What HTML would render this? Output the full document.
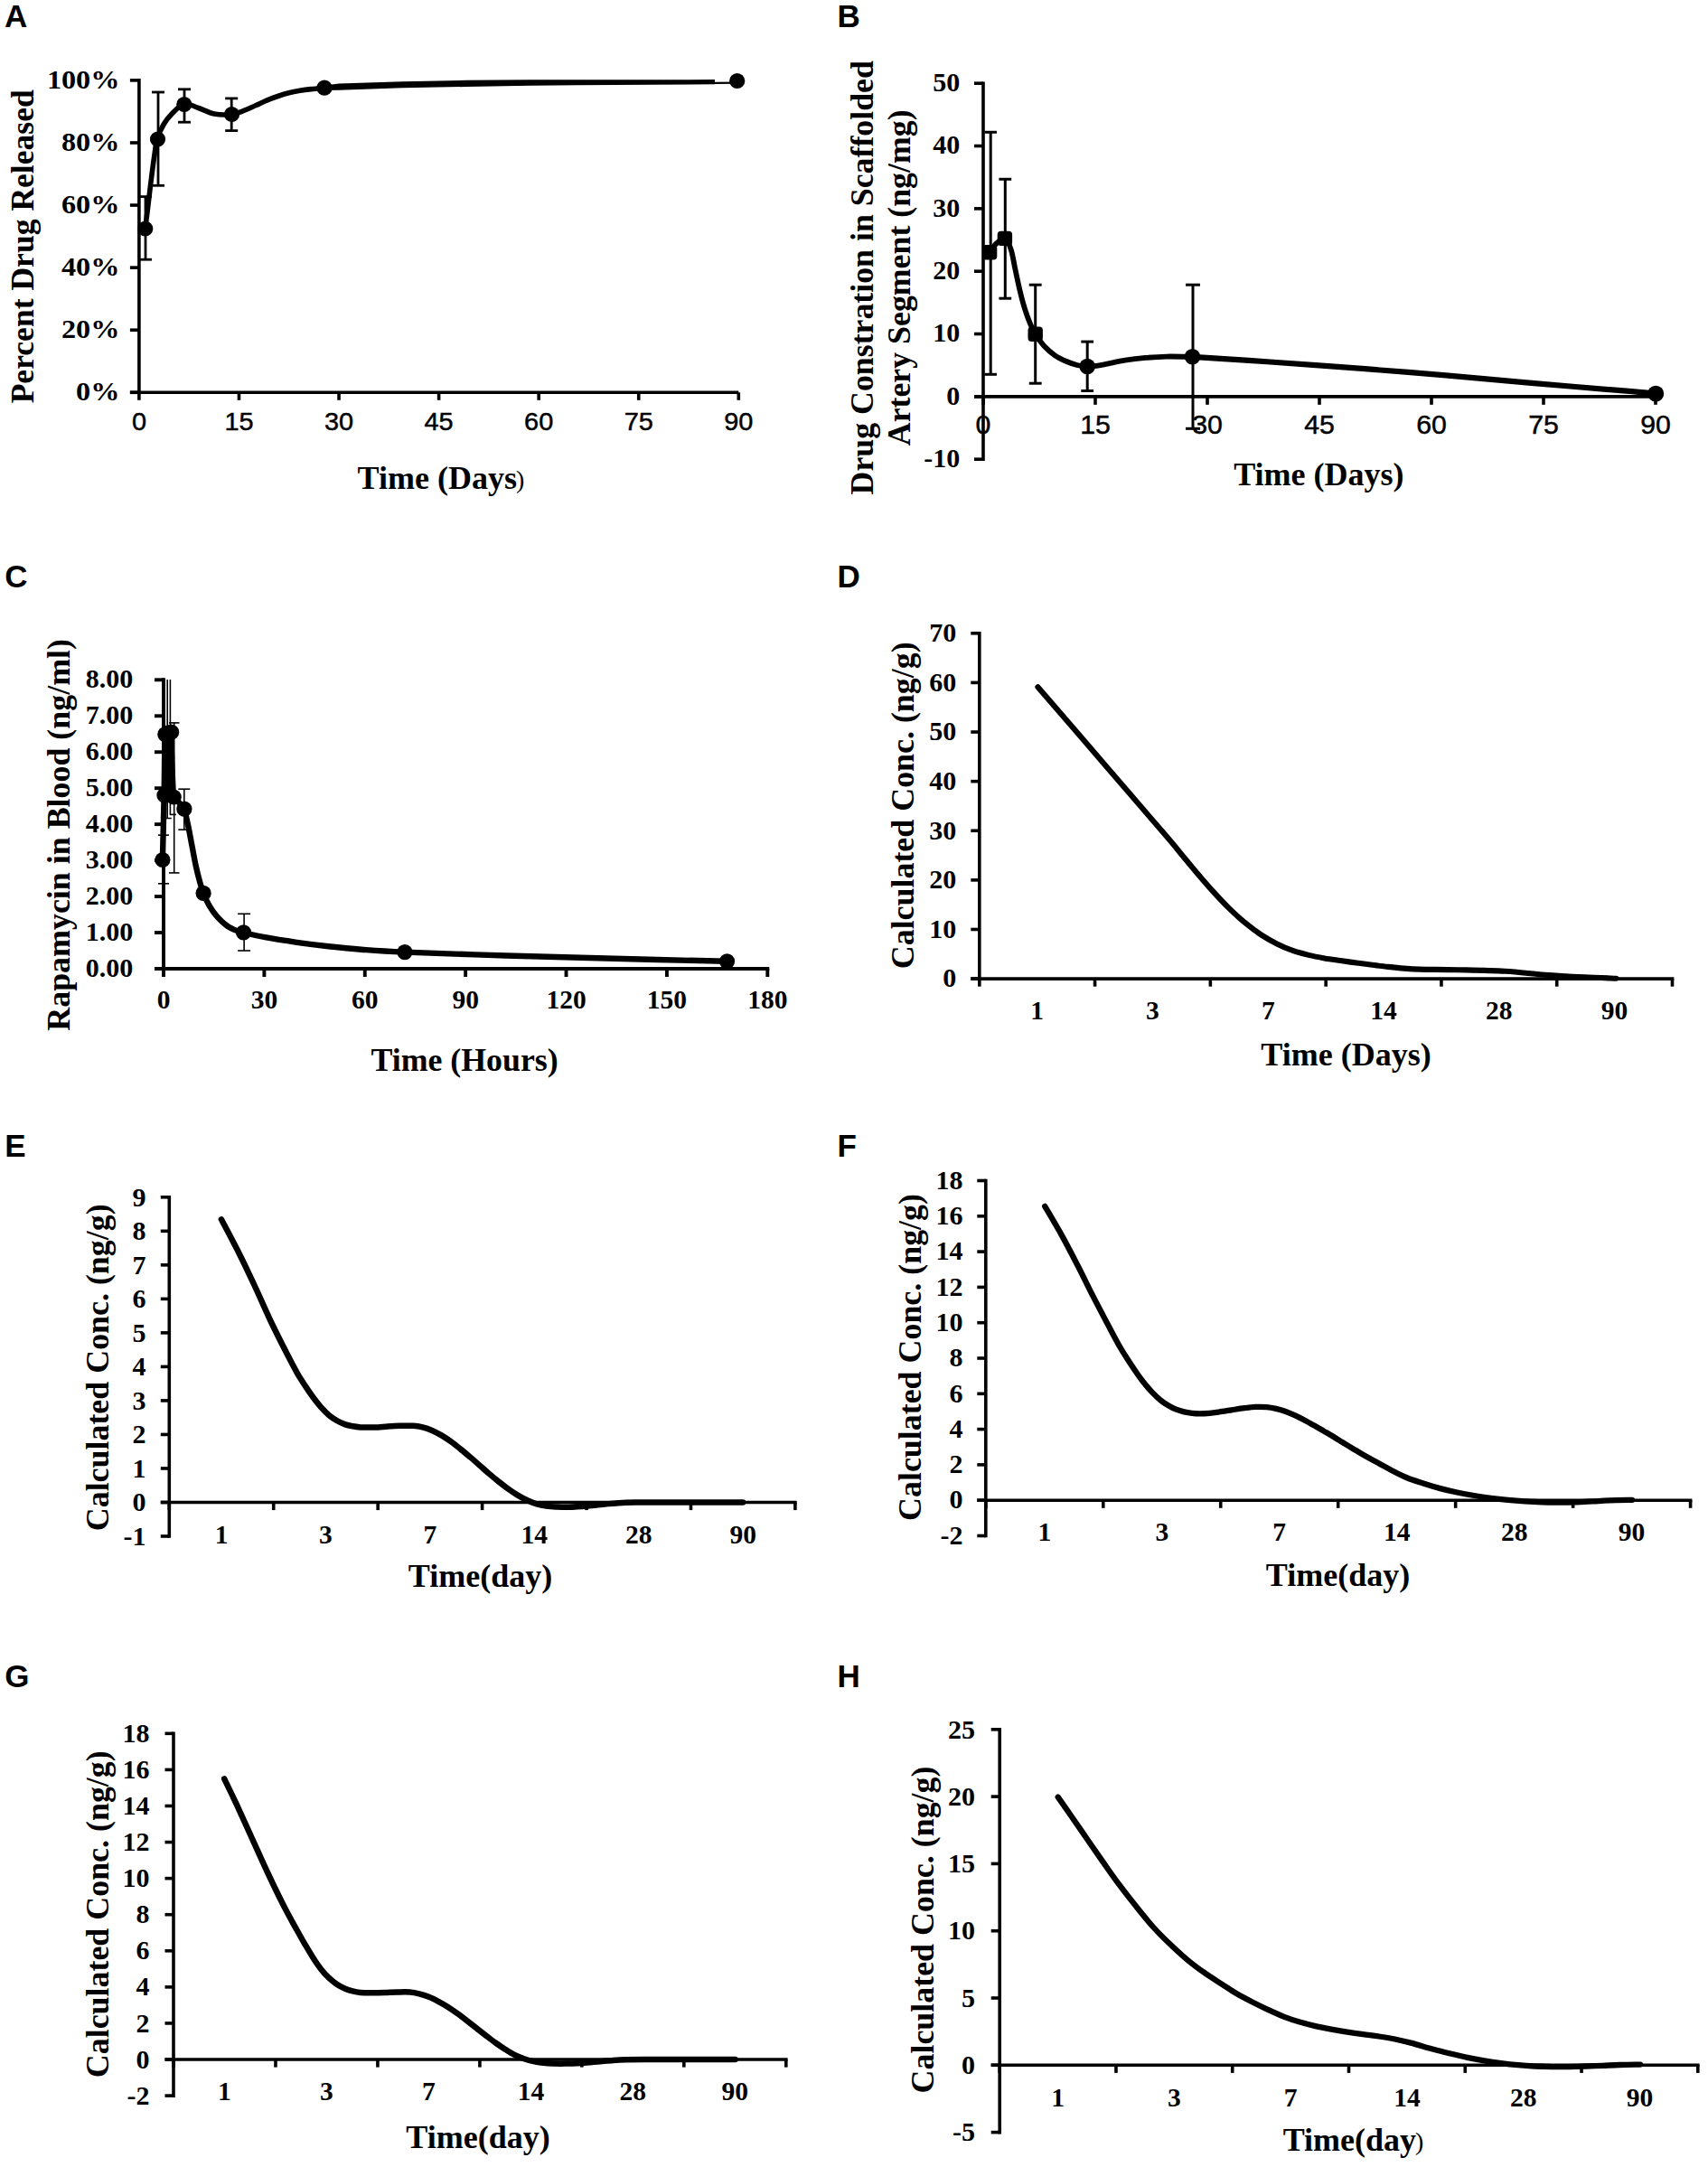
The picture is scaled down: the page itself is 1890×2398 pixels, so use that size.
<!DOCTYPE html>
<html><head><meta charset="utf-8"><title>Figure</title>
<style>
html,body{margin:0;padding:0;background:#fff;}
body{width:1890px;height:2398px;overflow:hidden;}
svg{display:block;}
text{fill:#000;}
</style></head><body>
<svg width="1890" height="2398" viewBox="0 0 1890 2398">
<rect width="1890" height="2398" fill="#fff"/>
<text x="5.00" y="30.20" font-size="35" text-anchor="start" font-family="Liberation Sans, sans-serif" font-weight="bold" >A</text>
<line x1="153.90" y1="87.10" x2="153.90" y2="436.10" stroke="#000" stroke-width="3.6" />
<line x1="143.90" y1="434.30" x2="817.30" y2="434.30" stroke="#000" stroke-width="3.6" />
<line x1="143.90" y1="434.30" x2="153.90" y2="434.30" stroke="#000" stroke-width="3.6" />
<text transform="translate(132.40,443.10) scale(1.13,1)" font-size="28.5" text-anchor="end" font-family="Liberation Serif, serif" font-weight="bold" >0%</text>
<line x1="143.90" y1="365.22" x2="153.90" y2="365.22" stroke="#000" stroke-width="3.6" />
<text transform="translate(132.40,374.02) scale(1.13,1)" font-size="28.5" text-anchor="end" font-family="Liberation Serif, serif" font-weight="bold" >20%</text>
<line x1="143.90" y1="296.14" x2="153.90" y2="296.14" stroke="#000" stroke-width="3.6" />
<text transform="translate(132.40,304.94) scale(1.13,1)" font-size="28.5" text-anchor="end" font-family="Liberation Serif, serif" font-weight="bold" >40%</text>
<line x1="143.90" y1="227.06" x2="153.90" y2="227.06" stroke="#000" stroke-width="3.6" />
<text transform="translate(132.40,235.86) scale(1.13,1)" font-size="28.5" text-anchor="end" font-family="Liberation Serif, serif" font-weight="bold" >60%</text>
<line x1="143.90" y1="157.98" x2="153.90" y2="157.98" stroke="#000" stroke-width="3.6" />
<text transform="translate(132.40,166.78) scale(1.13,1)" font-size="28.5" text-anchor="end" font-family="Liberation Serif, serif" font-weight="bold" >80%</text>
<line x1="143.90" y1="88.90" x2="153.90" y2="88.90" stroke="#000" stroke-width="3.6" />
<text transform="translate(132.40,97.70) scale(1.13,1)" font-size="28.5" text-anchor="end" font-family="Liberation Serif, serif" font-weight="bold" >100%</text>
<line x1="153.90" y1="434.30" x2="153.90" y2="442.80" stroke="#000" stroke-width="3.6" />
<text transform="translate(153.90,475.60) scale(1.07,1)" font-size="27" text-anchor="middle" font-family="Liberation Sans, sans-serif" stroke="#000" stroke-width="0.45" >0</text>
<line x1="264.47" y1="434.30" x2="264.47" y2="442.80" stroke="#000" stroke-width="3.6" />
<text transform="translate(264.47,475.60) scale(1.07,1)" font-size="27" text-anchor="middle" font-family="Liberation Sans, sans-serif" stroke="#000" stroke-width="0.45" >15</text>
<line x1="375.03" y1="434.30" x2="375.03" y2="442.80" stroke="#000" stroke-width="3.6" />
<text transform="translate(375.03,475.60) scale(1.07,1)" font-size="27" text-anchor="middle" font-family="Liberation Sans, sans-serif" stroke="#000" stroke-width="0.45" >30</text>
<line x1="485.60" y1="434.30" x2="485.60" y2="442.80" stroke="#000" stroke-width="3.6" />
<text transform="translate(485.60,475.60) scale(1.07,1)" font-size="27" text-anchor="middle" font-family="Liberation Sans, sans-serif" stroke="#000" stroke-width="0.45" >45</text>
<line x1="596.17" y1="434.30" x2="596.17" y2="442.80" stroke="#000" stroke-width="3.6" />
<text transform="translate(596.17,475.60) scale(1.07,1)" font-size="27" text-anchor="middle" font-family="Liberation Sans, sans-serif" stroke="#000" stroke-width="0.45" >60</text>
<line x1="706.73" y1="434.30" x2="706.73" y2="442.80" stroke="#000" stroke-width="3.6" />
<text transform="translate(706.73,475.60) scale(1.07,1)" font-size="27" text-anchor="middle" font-family="Liberation Sans, sans-serif" stroke="#000" stroke-width="0.45" >75</text>
<line x1="817.30" y1="434.30" x2="817.30" y2="442.80" stroke="#000" stroke-width="3.6" />
<text transform="translate(817.30,475.60) scale(1.07,1)" font-size="27" text-anchor="middle" font-family="Liberation Sans, sans-serif" stroke="#000" stroke-width="0.45" >90</text>
<text x="395.60" y="541.40" font-size="36" text-anchor="start" font-family="Liberation Serif, serif" font-weight="bold" >Time (Days<tspan font-weight="normal" font-size="28" dx="-1" dy="-1">)</tspan></text>
<text transform="translate(36.50,272.80) rotate(-90)" font-size="35.6" text-anchor="middle" font-family="Liberation Serif, serif" font-weight="bold" >Percent Drug Released</text>
<line x1="161.00" y1="217.60" x2="161.00" y2="287.20" stroke="#000" stroke-width="2.8" />
<line x1="154.00" y1="217.60" x2="168.00" y2="217.60" stroke="#000" stroke-width="2.8" />
<line x1="154.00" y1="287.20" x2="168.00" y2="287.20" stroke="#000" stroke-width="2.8" />
<line x1="175.00" y1="102.00" x2="175.00" y2="205.30" stroke="#000" stroke-width="2.8" />
<line x1="168.00" y1="102.00" x2="182.00" y2="102.00" stroke="#000" stroke-width="2.8" />
<line x1="168.00" y1="205.30" x2="182.00" y2="205.30" stroke="#000" stroke-width="2.8" />
<line x1="204.00" y1="98.80" x2="204.00" y2="135.20" stroke="#000" stroke-width="2.8" />
<line x1="197.00" y1="98.80" x2="211.00" y2="98.80" stroke="#000" stroke-width="2.8" />
<line x1="197.00" y1="135.20" x2="211.00" y2="135.20" stroke="#000" stroke-width="2.8" />
<line x1="256.20" y1="108.90" x2="256.20" y2="144.60" stroke="#000" stroke-width="2.8" />
<line x1="249.20" y1="108.90" x2="263.20" y2="108.90" stroke="#000" stroke-width="2.8" />
<line x1="249.20" y1="144.60" x2="263.20" y2="144.60" stroke="#000" stroke-width="2.8" />
<path d="M160.70,253.00 C161.08,249.93 162.20,241.18 163.00,234.60 C163.80,228.02 164.65,220.53 165.50,213.50 C166.35,206.47 167.23,199.13 168.10,192.40 C168.97,185.67 169.73,179.53 170.70,173.10 C171.67,166.67 172.20,159.65 173.90,153.80 C175.60,147.95 178.27,142.55 180.90,138.00 C183.53,133.45 185.88,130.32 189.70,126.50 C193.52,122.68 198.82,116.27 203.80,115.10 C208.78,113.93 214.05,117.68 219.60,119.50 C225.15,121.32 230.95,124.83 237.10,126.00 C243.25,127.17 250.93,127.13 256.50,126.50 C262.07,125.87 266.12,123.82 270.50,122.20 C274.88,120.58 278.70,118.65 282.80,116.80 C286.90,114.95 291.00,112.82 295.10,111.10 C299.20,109.38 303.32,107.88 307.40,106.50 C311.48,105.12 315.52,103.83 319.60,102.80 C323.68,101.77 327.80,101.00 331.90,100.30 C336.00,99.60 339.68,99.12 344.20,98.60 C348.72,98.08 356.53,97.43 359.00,97.20" fill="none" stroke="#000" stroke-width="5.6" stroke-linecap="round" stroke-linejoin="round" />
<polygon points="359,94.6 375,92.6 445,90.2 516,88.8 586,88.3 791,88.1 791,90.7 815,90.6 815,92.8 791,92.9 791,93.3 719,93.7 640,94.2 586,94.7 516,96 445,97.3 375,99.8 359,100" fill="#000"/>
<circle cx="160.70" cy="253.00" r="8.6" fill="#000"/>
<circle cx="174.50" cy="154.00" r="8.6" fill="#000"/>
<circle cx="203.80" cy="115.50" r="8.6" fill="#000"/>
<circle cx="256.50" cy="126.50" r="8.6" fill="#000"/>
<circle cx="359.00" cy="97.20" r="8.6" fill="#000"/>
<circle cx="815.70" cy="89.50" r="8.6" fill="#000"/>
<text x="926.50" y="30.20" font-size="35" text-anchor="start" font-family="Liberation Sans, sans-serif" font-weight="bold" >B</text>
<line x1="1088.00" y1="90.40" x2="1088.00" y2="510.00" stroke="#000" stroke-width="3.6" />
<line x1="1078.00" y1="438.87" x2="1832.00" y2="438.87" stroke="#000" stroke-width="3.6" />
<line x1="1078.00" y1="508.20" x2="1088.00" y2="508.20" stroke="#000" stroke-width="3.6" />
<text x="1062.30" y="517.10" font-size="30" text-anchor="end" font-family="Liberation Serif, serif" font-weight="bold" >-10</text>
<line x1="1078.00" y1="438.87" x2="1088.00" y2="438.87" stroke="#000" stroke-width="3.6" />
<text x="1062.30" y="447.77" font-size="30" text-anchor="end" font-family="Liberation Serif, serif" font-weight="bold" >0</text>
<line x1="1078.00" y1="369.53" x2="1088.00" y2="369.53" stroke="#000" stroke-width="3.6" />
<text x="1062.30" y="378.43" font-size="30" text-anchor="end" font-family="Liberation Serif, serif" font-weight="bold" >10</text>
<line x1="1078.00" y1="300.20" x2="1088.00" y2="300.20" stroke="#000" stroke-width="3.6" />
<text x="1062.30" y="309.10" font-size="30" text-anchor="end" font-family="Liberation Serif, serif" font-weight="bold" >20</text>
<line x1="1078.00" y1="230.87" x2="1088.00" y2="230.87" stroke="#000" stroke-width="3.6" />
<text x="1062.30" y="239.77" font-size="30" text-anchor="end" font-family="Liberation Serif, serif" font-weight="bold" >30</text>
<line x1="1078.00" y1="161.53" x2="1088.00" y2="161.53" stroke="#000" stroke-width="3.6" />
<text x="1062.30" y="170.43" font-size="30" text-anchor="end" font-family="Liberation Serif, serif" font-weight="bold" >40</text>
<line x1="1078.00" y1="92.20" x2="1088.00" y2="92.20" stroke="#000" stroke-width="3.6" />
<text x="1062.30" y="101.10" font-size="30" text-anchor="end" font-family="Liberation Serif, serif" font-weight="bold" >50</text>
<line x1="1088.00" y1="438.87" x2="1088.00" y2="447.87" stroke="#000" stroke-width="3.6" />
<text transform="translate(1088.00,479.70) scale(1.06,1)" font-size="28.6" text-anchor="middle" font-family="Liberation Sans, sans-serif" stroke="#000" stroke-width="0.45" >0</text>
<line x1="1212.00" y1="438.87" x2="1212.00" y2="447.87" stroke="#000" stroke-width="3.6" />
<text transform="translate(1212.00,479.70) scale(1.06,1)" font-size="28.6" text-anchor="middle" font-family="Liberation Sans, sans-serif" stroke="#000" stroke-width="0.45" >15</text>
<line x1="1336.00" y1="438.87" x2="1336.00" y2="447.87" stroke="#000" stroke-width="3.6" />
<text transform="translate(1336.00,479.70) scale(1.06,1)" font-size="28.6" text-anchor="middle" font-family="Liberation Sans, sans-serif" stroke="#000" stroke-width="0.45" >30</text>
<line x1="1460.00" y1="438.87" x2="1460.00" y2="447.87" stroke="#000" stroke-width="3.6" />
<text transform="translate(1460.00,479.70) scale(1.06,1)" font-size="28.6" text-anchor="middle" font-family="Liberation Sans, sans-serif" stroke="#000" stroke-width="0.45" >45</text>
<line x1="1584.00" y1="438.87" x2="1584.00" y2="447.87" stroke="#000" stroke-width="3.6" />
<text transform="translate(1584.00,479.70) scale(1.06,1)" font-size="28.6" text-anchor="middle" font-family="Liberation Sans, sans-serif" stroke="#000" stroke-width="0.45" >60</text>
<line x1="1708.00" y1="438.87" x2="1708.00" y2="447.87" stroke="#000" stroke-width="3.6" />
<text transform="translate(1708.00,479.70) scale(1.06,1)" font-size="28.6" text-anchor="middle" font-family="Liberation Sans, sans-serif" stroke="#000" stroke-width="0.45" >75</text>
<line x1="1832.00" y1="438.87" x2="1832.00" y2="447.87" stroke="#000" stroke-width="3.6" />
<text transform="translate(1832.00,479.70) scale(1.06,1)" font-size="28.6" text-anchor="middle" font-family="Liberation Sans, sans-serif" stroke="#000" stroke-width="0.45" >90</text>
<text x="1459.40" y="536.90" font-size="36" text-anchor="middle" font-family="Liberation Serif, serif" font-weight="bold" >Time (Days)</text>
<text transform="translate(965.50,307.30) rotate(-90)" font-size="35.8" text-anchor="middle" font-family="Liberation Serif, serif" font-weight="bold" >Drug Constration in Scaffolded</text>
<text transform="translate(1007.30,307.30) rotate(-90)" font-size="35.8" text-anchor="middle" font-family="Liberation Serif, serif" font-weight="bold" >Artery Segment (ng/mg)</text>
<line x1="1096.20" y1="146.28" x2="1096.20" y2="414.30" stroke="#000" stroke-width="3" />
<line x1="1089.45" y1="146.28" x2="1102.95" y2="146.28" stroke="#000" stroke-width="3" />
<line x1="1089.45" y1="414.30" x2="1102.95" y2="414.30" stroke="#000" stroke-width="3" />
<line x1="1112.30" y1="198.28" x2="1112.30" y2="330.20" stroke="#000" stroke-width="3" />
<line x1="1105.40" y1="198.28" x2="1119.20" y2="198.28" stroke="#000" stroke-width="3" />
<line x1="1105.40" y1="330.20" x2="1119.20" y2="330.20" stroke="#000" stroke-width="3" />
<line x1="1145.70" y1="315.20" x2="1145.70" y2="424.20" stroke="#000" stroke-width="3" />
<line x1="1138.75" y1="315.20" x2="1152.65" y2="315.20" stroke="#000" stroke-width="3" />
<line x1="1138.75" y1="424.20" x2="1152.65" y2="424.20" stroke="#000" stroke-width="3" />
<line x1="1203.20" y1="378.10" x2="1203.20" y2="432.50" stroke="#000" stroke-width="3" />
<line x1="1196.30" y1="378.10" x2="1210.10" y2="378.10" stroke="#000" stroke-width="3" />
<line x1="1196.30" y1="432.50" x2="1210.10" y2="432.50" stroke="#000" stroke-width="3" />
<line x1="1320.00" y1="315.20" x2="1320.00" y2="474.30" stroke="#000" stroke-width="3" />
<line x1="1312.00" y1="315.20" x2="1328.00" y2="315.20" stroke="#000" stroke-width="3" />
<line x1="1312.00" y1="474.30" x2="1328.00" y2="474.30" stroke="#000" stroke-width="3" />
<path d="M1095.12,279.16 C1096.39,277.51 1099.94,271.80 1102.73,269.26 C1105.52,266.73 1109.20,262.79 1111.86,263.94 C1114.53,265.08 1116.81,270.53 1118.71,276.12 C1120.62,281.70 1121.63,289.82 1123.28,297.43 C1124.93,305.04 1126.83,314.43 1128.61,321.78 C1130.38,329.14 1132.03,335.48 1133.94,341.57 C1135.84,347.66 1138.07,353.63 1140.03,358.32 C1141.98,363.01 1143.12,365.68 1145.66,369.74 C1148.20,373.80 1151.62,378.74 1155.25,382.68 C1158.88,386.61 1163.37,390.49 1167.43,393.33 C1171.49,396.17 1175.55,397.95 1179.61,399.73 C1183.67,401.50 1187.85,402.97 1191.78,403.99 C1195.72,405.00 1199.40,405.71 1203.20,405.82 C1207.01,405.92 1210.94,405.13 1214.62,404.60 C1218.30,404.06 1220.20,403.61 1225.27,402.62 C1230.35,401.63 1237.96,399.78 1245.06,398.66 C1252.17,397.54 1260.29,396.61 1267.90,395.92 C1275.51,395.24 1282.11,394.73 1290.73,394.55 C1299.36,394.37 1314.84,394.80 1319.66,394.85" fill="none" stroke="#000" stroke-width="5.8" stroke-linecap="round" stroke-linejoin="round" />
<path d="M1319.50,394.80 C1333.82,395.75 1373.52,398.27 1405.40,400.50 C1437.28,402.73 1478.37,405.72 1510.80,408.20 C1543.23,410.68 1568.38,412.70 1600.00,415.40 C1631.62,418.10 1666.18,421.43 1700.50,424.40 C1734.82,427.37 1783.98,431.33 1805.90,433.20 C1827.82,435.07 1827.65,435.20 1832.00,435.60" fill="none" stroke="#000" stroke-width="6.2" stroke-linecap="round" stroke-linejoin="round" />
<rect x="1086.90" y="271.00" width="16.4" height="16.4" rx="4" fill="#000"/>
<rect x="1103.70" y="255.70" width="16.4" height="16.4" rx="4" fill="#000"/>
<rect x="1137.50" y="361.50" width="16.4" height="16.4" rx="4" fill="#000"/>
<circle cx="1203.20" cy="405.50" r="8.8" fill="#000"/>
<circle cx="1319.50" cy="394.80" r="8.8" fill="#000"/>
<circle cx="1832.20" cy="435.70" r="9" fill="#000"/>
<text x="5.20" y="650.00" font-size="35" text-anchor="start" font-family="Liberation Sans, sans-serif" font-weight="bold" >C</text>
<line x1="181.00" y1="750.35" x2="181.00" y2="1073.95" stroke="#000" stroke-width="3.9" />
<line x1="171.00" y1="1072.00" x2="851.25" y2="1072.00" stroke="#000" stroke-width="3.9" />
<line x1="171.00" y1="1072.00" x2="181.00" y2="1072.00" stroke="#000" stroke-width="3.9" />
<text x="147.30" y="1081.00" font-size="30" text-anchor="end" font-family="Liberation Serif, serif" font-weight="bold" >0.00</text>
<line x1="171.00" y1="1032.04" x2="181.00" y2="1032.04" stroke="#000" stroke-width="3.9" />
<text x="147.30" y="1041.04" font-size="30" text-anchor="end" font-family="Liberation Serif, serif" font-weight="bold" >1.00</text>
<line x1="171.00" y1="992.08" x2="181.00" y2="992.08" stroke="#000" stroke-width="3.9" />
<text x="147.30" y="1001.08" font-size="30" text-anchor="end" font-family="Liberation Serif, serif" font-weight="bold" >2.00</text>
<line x1="171.00" y1="952.11" x2="181.00" y2="952.11" stroke="#000" stroke-width="3.9" />
<text x="147.30" y="961.11" font-size="30" text-anchor="end" font-family="Liberation Serif, serif" font-weight="bold" >3.00</text>
<line x1="171.00" y1="912.15" x2="181.00" y2="912.15" stroke="#000" stroke-width="3.9" />
<text x="147.30" y="921.15" font-size="30" text-anchor="end" font-family="Liberation Serif, serif" font-weight="bold" >4.00</text>
<line x1="171.00" y1="872.19" x2="181.00" y2="872.19" stroke="#000" stroke-width="3.9" />
<text x="147.30" y="881.19" font-size="30" text-anchor="end" font-family="Liberation Serif, serif" font-weight="bold" >5.00</text>
<line x1="171.00" y1="832.22" x2="181.00" y2="832.22" stroke="#000" stroke-width="3.9" />
<text x="147.30" y="841.22" font-size="30" text-anchor="end" font-family="Liberation Serif, serif" font-weight="bold" >6.00</text>
<line x1="171.00" y1="792.26" x2="181.00" y2="792.26" stroke="#000" stroke-width="3.9" />
<text x="147.30" y="801.26" font-size="30" text-anchor="end" font-family="Liberation Serif, serif" font-weight="bold" >7.00</text>
<line x1="171.00" y1="752.30" x2="181.00" y2="752.30" stroke="#000" stroke-width="3.9" />
<text x="147.30" y="761.30" font-size="30" text-anchor="end" font-family="Liberation Serif, serif" font-weight="bold" >8.00</text>
<line x1="181.00" y1="1072.00" x2="181.00" y2="1081.00" stroke="#000" stroke-width="3.9" />
<text x="181.00" y="1115.60" font-size="29.5" text-anchor="middle" font-family="Liberation Serif, serif" font-weight="bold" >0</text>
<line x1="292.38" y1="1072.00" x2="292.38" y2="1081.00" stroke="#000" stroke-width="3.9" />
<text x="292.38" y="1115.60" font-size="29.5" text-anchor="middle" font-family="Liberation Serif, serif" font-weight="bold" >30</text>
<line x1="403.77" y1="1072.00" x2="403.77" y2="1081.00" stroke="#000" stroke-width="3.9" />
<text x="403.77" y="1115.60" font-size="29.5" text-anchor="middle" font-family="Liberation Serif, serif" font-weight="bold" >60</text>
<line x1="515.15" y1="1072.00" x2="515.15" y2="1081.00" stroke="#000" stroke-width="3.9" />
<text x="515.15" y="1115.60" font-size="29.5" text-anchor="middle" font-family="Liberation Serif, serif" font-weight="bold" >90</text>
<line x1="626.53" y1="1072.00" x2="626.53" y2="1081.00" stroke="#000" stroke-width="3.9" />
<text x="626.53" y="1115.60" font-size="29.5" text-anchor="middle" font-family="Liberation Serif, serif" font-weight="bold" >120</text>
<line x1="737.92" y1="1072.00" x2="737.92" y2="1081.00" stroke="#000" stroke-width="3.9" />
<text x="737.92" y="1115.60" font-size="29.5" text-anchor="middle" font-family="Liberation Serif, serif" font-weight="bold" >150</text>
<line x1="849.30" y1="1072.00" x2="849.30" y2="1081.00" stroke="#000" stroke-width="3.9" />
<text x="849.30" y="1115.60" font-size="29.5" text-anchor="middle" font-family="Liberation Serif, serif" font-weight="bold" >180</text>
<text x="514.10" y="1184.90" font-size="35.8" text-anchor="middle" font-family="Liberation Serif, serif" font-weight="bold" >Time (Hours)</text>
<text transform="translate(77.00,923.85) rotate(-90)" font-size="35.9" text-anchor="middle" font-family="Liberation Serif, serif" font-weight="bold" >Rapamycin in Blood (ng/ml)</text>
<line x1="270.11" y1="1011.26" x2="270.11" y2="1052.02" stroke="#000" stroke-width="1.6" />
<line x1="263.11" y1="1011.26" x2="277.11" y2="1011.26" stroke="#000" stroke-width="1.6" />
<line x1="263.11" y1="1052.02" x2="277.11" y2="1052.02" stroke="#000" stroke-width="1.6" />
<line x1="203.80" y1="873.20" x2="203.80" y2="918.10" stroke="#000" stroke-width="1.6" />
<line x1="197.30" y1="873.20" x2="210.30" y2="873.20" stroke="#000" stroke-width="1.6" />
<line x1="197.30" y1="918.10" x2="210.30" y2="918.10" stroke="#000" stroke-width="1.6" />
<line x1="192.70" y1="799.90" x2="192.70" y2="965.90" stroke="#000" stroke-width="1.6" />
<line x1="186.95" y1="799.90" x2="198.45" y2="799.90" stroke="#000" stroke-width="1.6" />
<line x1="186.95" y1="965.90" x2="198.45" y2="965.90" stroke="#000" stroke-width="1.6" />
<line x1="181.00" y1="924.14" x2="181.00" y2="977.80" stroke="#000" stroke-width="1.6" />
<line x1="175.00" y1="924.14" x2="187.00" y2="924.14" stroke="#000" stroke-width="1.6" />
<line x1="175.00" y1="977.80" x2="187.00" y2="977.80" stroke="#000" stroke-width="1.6" />
<line x1="185.20" y1="752.00" x2="185.20" y2="905.50" stroke="#000" stroke-width="1.6" />
<line x1="180.70" y1="905.50" x2="189.70" y2="905.50" stroke="#000" stroke-width="1.6" />
<line x1="188.40" y1="752.00" x2="188.40" y2="901.40" stroke="#000" stroke-width="1.6" />
<line x1="187.80" y1="901.40" x2="194.90" y2="901.40" stroke="#000" stroke-width="1.6" />
<rect x="181" y="812" width="11" height="70" fill="#000"/>
<path d="M179.90,951.50 C180.18,939.58 181.12,903.15 181.60,880.00 C182.08,856.85 182.05,824.52 182.80,812.60 C183.55,800.68 185.07,808.60 186.10,808.50 C187.13,808.40 188.27,805.08 189.00,812.00 C189.73,818.92 189.95,838.33 190.50,850.00 C191.05,861.67 191.22,875.83 192.30,882.00 C193.38,888.17 195.12,884.78 197.00,887.00 C198.88,889.22 201.77,891.00 203.60,895.30 C205.43,899.60 206.53,906.07 208.00,912.80 C209.47,919.53 210.93,928.08 212.40,935.70 C213.87,943.32 215.33,951.77 216.80,958.50 C218.27,965.23 219.82,971.12 221.20,976.10 C222.58,981.08 223.35,984.02 225.10,988.40 C226.85,992.78 229.13,998.02 231.70,1002.40 C234.27,1006.78 237.27,1011.03 240.50,1014.70 C243.73,1018.37 247.88,1022.00 251.10,1024.40 C254.32,1026.80 256.73,1027.85 259.80,1029.10 C262.87,1030.35 263.93,1030.55 269.50,1031.90 C275.07,1033.25 283.38,1035.38 293.20,1037.20 C303.02,1039.02 316.68,1041.13 328.40,1042.80 C340.12,1044.47 351.57,1045.88 363.50,1047.20 C375.43,1048.52 385.93,1049.63 400.00,1050.70 C414.07,1051.77 421.23,1052.47 447.90,1053.60 C474.57,1054.73 521.32,1056.30 560.00,1057.50 C598.68,1058.70 639.25,1059.75 680.00,1060.80 C720.75,1061.85 783.75,1063.30 804.50,1063.80" fill="none" stroke="#000" stroke-width="6.4" stroke-linecap="round" stroke-linejoin="round" />
<circle cx="179.90" cy="951.50" r="8.6" fill="#000"/>
<circle cx="181.90" cy="880.00" r="8.6" fill="#000"/>
<circle cx="182.80" cy="812.60" r="8.6" fill="#000"/>
<circle cx="189.60" cy="810.20" r="8.6" fill="#000"/>
<circle cx="192.20" cy="882.00" r="8.6" fill="#000"/>
<circle cx="203.90" cy="895.20" r="8.6" fill="#000"/>
<circle cx="225.10" cy="988.40" r="8.6" fill="#000"/>
<circle cx="269.50" cy="1031.90" r="8.6" fill="#000"/>
<circle cx="447.90" cy="1053.60" r="8.6" fill="#000"/>
<circle cx="804.50" cy="1063.80" r="8.6" fill="#000"/>
<text x="926.50" y="650.20" font-size="35" text-anchor="start" font-family="Liberation Sans, sans-serif" font-weight="bold" >D</text>
<line x1="1083.80" y1="699.00" x2="1083.80" y2="1084.90" stroke="#000" stroke-width="3.6" />
<line x1="1074.30" y1="1083.10" x2="1852.30" y2="1083.10" stroke="#000" stroke-width="3.6" />
<line x1="1074.30" y1="1083.10" x2="1083.80" y2="1083.10" stroke="#000" stroke-width="3.6" />
<text x="1058.20" y="1092.40" font-size="30" text-anchor="end" font-family="Liberation Serif, serif" font-weight="bold" >0</text>
<line x1="1074.30" y1="1028.49" x2="1083.80" y2="1028.49" stroke="#000" stroke-width="3.6" />
<text x="1058.20" y="1037.79" font-size="30" text-anchor="end" font-family="Liberation Serif, serif" font-weight="bold" >10</text>
<line x1="1074.30" y1="973.87" x2="1083.80" y2="973.87" stroke="#000" stroke-width="3.6" />
<text x="1058.20" y="983.17" font-size="30" text-anchor="end" font-family="Liberation Serif, serif" font-weight="bold" >20</text>
<line x1="1074.30" y1="919.26" x2="1083.80" y2="919.26" stroke="#000" stroke-width="3.6" />
<text x="1058.20" y="928.56" font-size="30" text-anchor="end" font-family="Liberation Serif, serif" font-weight="bold" >30</text>
<line x1="1074.30" y1="864.64" x2="1083.80" y2="864.64" stroke="#000" stroke-width="3.6" />
<text x="1058.20" y="873.94" font-size="30" text-anchor="end" font-family="Liberation Serif, serif" font-weight="bold" >40</text>
<line x1="1074.30" y1="810.03" x2="1083.80" y2="810.03" stroke="#000" stroke-width="3.6" />
<text x="1058.20" y="819.33" font-size="30" text-anchor="end" font-family="Liberation Serif, serif" font-weight="bold" >50</text>
<line x1="1074.30" y1="755.41" x2="1083.80" y2="755.41" stroke="#000" stroke-width="3.6" />
<text x="1058.20" y="764.71" font-size="30" text-anchor="end" font-family="Liberation Serif, serif" font-weight="bold" >60</text>
<line x1="1074.30" y1="700.80" x2="1083.80" y2="700.80" stroke="#000" stroke-width="3.6" />
<text x="1058.20" y="710.10" font-size="30" text-anchor="end" font-family="Liberation Serif, serif" font-weight="bold" >70</text>
<line x1="1083.80" y1="1083.10" x2="1083.80" y2="1091.70" stroke="#000" stroke-width="3.6" />
<line x1="1211.58" y1="1083.10" x2="1211.58" y2="1091.70" stroke="#000" stroke-width="3.6" />
<line x1="1339.37" y1="1083.10" x2="1339.37" y2="1091.70" stroke="#000" stroke-width="3.6" />
<line x1="1467.15" y1="1083.10" x2="1467.15" y2="1091.70" stroke="#000" stroke-width="3.6" />
<line x1="1594.93" y1="1083.10" x2="1594.93" y2="1091.70" stroke="#000" stroke-width="3.6" />
<line x1="1722.72" y1="1083.10" x2="1722.72" y2="1091.70" stroke="#000" stroke-width="3.6" />
<line x1="1850.50" y1="1083.10" x2="1850.50" y2="1091.70" stroke="#000" stroke-width="3.6" />
<text x="1147.69" y="1128.40" font-size="29.5" text-anchor="middle" font-family="Liberation Serif, serif" font-weight="bold" >1</text>
<text x="1275.47" y="1128.40" font-size="29.5" text-anchor="middle" font-family="Liberation Serif, serif" font-weight="bold" >3</text>
<text x="1403.26" y="1128.40" font-size="29.5" text-anchor="middle" font-family="Liberation Serif, serif" font-weight="bold" >7</text>
<text x="1531.04" y="1128.40" font-size="29.5" text-anchor="middle" font-family="Liberation Serif, serif" font-weight="bold" >14</text>
<text x="1658.83" y="1128.40" font-size="29.5" text-anchor="middle" font-family="Liberation Serif, serif" font-weight="bold" >28</text>
<text x="1786.61" y="1128.40" font-size="29.5" text-anchor="middle" font-family="Liberation Serif, serif" font-weight="bold" >90</text>
<text x="1489.50" y="1178.70" font-size="36" text-anchor="middle" font-family="Liberation Serif, serif" font-weight="bold" >Time (Days)</text>
<text transform="translate(1011.40,891.30) rotate(-90)" font-size="35.9" text-anchor="middle" font-family="Liberation Serif, serif" font-weight="bold" >Calculated Conc. (ng/g)</text>
<path d="M1148.40,760.20 C1161.15,774.98 1201.30,821.50 1224.90,848.90 C1248.50,876.30 1276.22,908.47 1290.00,924.60 C1303.78,940.73 1301.75,938.68 1307.60,945.70 C1313.45,952.72 1319.25,959.83 1325.10,966.70 C1330.95,973.57 1336.83,980.45 1342.70,986.90 C1348.57,993.35 1354.45,999.68 1360.30,1005.40 C1366.15,1011.12 1371.95,1016.37 1377.80,1021.20 C1383.65,1026.03 1389.53,1030.53 1395.40,1034.40 C1401.27,1038.27 1407.15,1041.48 1413.00,1044.40 C1418.85,1047.32 1424.65,1049.82 1430.50,1051.90 C1436.35,1053.98 1442.23,1055.48 1448.10,1056.90 C1453.97,1058.32 1459.85,1059.38 1465.70,1060.40 C1471.55,1061.42 1477.35,1062.15 1483.20,1063.00 C1489.05,1063.85 1494.93,1064.70 1500.80,1065.50 C1506.67,1066.30 1512.55,1067.07 1518.40,1067.80 C1524.25,1068.53 1530.05,1069.27 1535.90,1069.90 C1541.75,1070.53 1547.63,1071.15 1553.50,1071.60 C1559.37,1072.05 1561.23,1072.33 1571.10,1072.60 C1580.97,1072.87 1596.98,1072.83 1612.70,1073.20 C1628.42,1073.57 1649.30,1073.88 1665.40,1074.80 C1681.50,1075.72 1694.67,1077.62 1709.30,1078.70 C1723.93,1079.78 1740.03,1080.63 1753.20,1081.30 C1766.37,1081.97 1782.45,1082.47 1788.30,1082.70" fill="none" stroke="#000" stroke-width="6.1" stroke-linecap="round" stroke-linejoin="round" />
<text x="5.30" y="1280.10" font-size="35" text-anchor="start" font-family="Liberation Sans, sans-serif" font-weight="bold" >E</text>
<line x1="187.30" y1="1323.00" x2="187.30" y2="1701.80" stroke="#000" stroke-width="3.6" />
<line x1="177.80" y1="1662.48" x2="881.70" y2="1662.48" stroke="#000" stroke-width="3.6" />
<line x1="177.80" y1="1700.00" x2="187.30" y2="1700.00" stroke="#000" stroke-width="3.6" />
<text x="161.40" y="1709.70" font-size="30" text-anchor="end" font-family="Liberation Serif, serif" font-weight="bold" >-1</text>
<line x1="177.80" y1="1662.48" x2="187.30" y2="1662.48" stroke="#000" stroke-width="3.6" />
<text x="161.40" y="1672.18" font-size="30" text-anchor="end" font-family="Liberation Serif, serif" font-weight="bold" >0</text>
<line x1="177.80" y1="1624.96" x2="187.30" y2="1624.96" stroke="#000" stroke-width="3.6" />
<text x="161.40" y="1634.66" font-size="30" text-anchor="end" font-family="Liberation Serif, serif" font-weight="bold" >1</text>
<line x1="177.80" y1="1587.44" x2="187.30" y2="1587.44" stroke="#000" stroke-width="3.6" />
<text x="161.40" y="1597.14" font-size="30" text-anchor="end" font-family="Liberation Serif, serif" font-weight="bold" >2</text>
<line x1="177.80" y1="1549.92" x2="187.30" y2="1549.92" stroke="#000" stroke-width="3.6" />
<text x="161.40" y="1559.62" font-size="30" text-anchor="end" font-family="Liberation Serif, serif" font-weight="bold" >3</text>
<line x1="177.80" y1="1512.40" x2="187.30" y2="1512.40" stroke="#000" stroke-width="3.6" />
<text x="161.40" y="1522.10" font-size="30" text-anchor="end" font-family="Liberation Serif, serif" font-weight="bold" >4</text>
<line x1="177.80" y1="1474.88" x2="187.30" y2="1474.88" stroke="#000" stroke-width="3.6" />
<text x="161.40" y="1484.58" font-size="30" text-anchor="end" font-family="Liberation Serif, serif" font-weight="bold" >5</text>
<line x1="177.80" y1="1437.36" x2="187.30" y2="1437.36" stroke="#000" stroke-width="3.6" />
<text x="161.40" y="1447.06" font-size="30" text-anchor="end" font-family="Liberation Serif, serif" font-weight="bold" >6</text>
<line x1="177.80" y1="1399.84" x2="187.30" y2="1399.84" stroke="#000" stroke-width="3.6" />
<text x="161.40" y="1409.54" font-size="30" text-anchor="end" font-family="Liberation Serif, serif" font-weight="bold" >7</text>
<line x1="177.80" y1="1362.32" x2="187.30" y2="1362.32" stroke="#000" stroke-width="3.6" />
<text x="161.40" y="1372.02" font-size="30" text-anchor="end" font-family="Liberation Serif, serif" font-weight="bold" >8</text>
<line x1="177.80" y1="1324.80" x2="187.30" y2="1324.80" stroke="#000" stroke-width="3.6" />
<text x="161.40" y="1334.50" font-size="30" text-anchor="end" font-family="Liberation Serif, serif" font-weight="bold" >9</text>
<line x1="187.30" y1="1662.48" x2="187.30" y2="1671.08" stroke="#000" stroke-width="3.6" />
<line x1="302.73" y1="1662.48" x2="302.73" y2="1671.08" stroke="#000" stroke-width="3.6" />
<line x1="418.17" y1="1662.48" x2="418.17" y2="1671.08" stroke="#000" stroke-width="3.6" />
<line x1="533.60" y1="1662.48" x2="533.60" y2="1671.08" stroke="#000" stroke-width="3.6" />
<line x1="649.03" y1="1662.48" x2="649.03" y2="1671.08" stroke="#000" stroke-width="3.6" />
<line x1="764.47" y1="1662.48" x2="764.47" y2="1671.08" stroke="#000" stroke-width="3.6" />
<line x1="879.90" y1="1662.48" x2="879.90" y2="1671.08" stroke="#000" stroke-width="3.6" />
<text x="245.02" y="1707.90" font-size="29.5" text-anchor="middle" font-family="Liberation Serif, serif" font-weight="bold" >1</text>
<text x="360.45" y="1707.90" font-size="29.5" text-anchor="middle" font-family="Liberation Serif, serif" font-weight="bold" >3</text>
<text x="475.88" y="1707.90" font-size="29.5" text-anchor="middle" font-family="Liberation Serif, serif" font-weight="bold" >7</text>
<text x="591.32" y="1707.90" font-size="29.5" text-anchor="middle" font-family="Liberation Serif, serif" font-weight="bold" >14</text>
<text x="706.75" y="1707.90" font-size="29.5" text-anchor="middle" font-family="Liberation Serif, serif" font-weight="bold" >28</text>
<text x="822.18" y="1707.90" font-size="29.5" text-anchor="middle" font-family="Liberation Serif, serif" font-weight="bold" >90</text>
<text x="531.50" y="1755.70" font-size="36" text-anchor="middle" font-family="Liberation Serif, serif" font-weight="bold" >Time(day)</text>
<text transform="translate(120.00,1513.30) rotate(-90)" font-size="35.9" text-anchor="middle" font-family="Liberation Serif, serif" font-weight="bold" >Calculated Conc. (ng/g)</text>
<path d="M244.90,1349.30 C248.27,1355.75 258.80,1375.40 265.10,1388.00 C271.40,1400.60 276.83,1412.32 282.70,1424.90 C288.57,1437.48 294.45,1451.22 300.30,1463.50 C306.15,1475.78 313.05,1489.30 317.80,1498.60 C322.55,1507.90 325.50,1513.50 328.80,1519.30 C332.10,1525.10 334.68,1528.95 337.60,1533.40 C340.52,1537.85 343.38,1542.05 346.30,1546.00 C349.22,1549.95 352.17,1553.78 355.10,1557.10 C358.03,1560.42 360.97,1563.42 363.90,1565.90 C366.83,1568.38 369.77,1570.30 372.70,1572.00 C375.63,1573.70 378.57,1575.05 381.50,1576.10 C384.43,1577.15 387.38,1577.75 390.30,1578.30 C393.22,1578.85 396.08,1579.18 399.00,1579.40 C401.92,1579.62 404.57,1579.60 407.80,1579.60 C411.03,1579.60 414.88,1579.58 418.40,1579.40 C421.92,1579.22 424.80,1578.77 428.90,1578.50 C433.00,1578.23 438.32,1577.92 443.00,1577.80 C447.68,1577.68 452.90,1577.53 457.00,1577.80 C461.10,1578.07 464.08,1578.55 467.60,1579.40 C471.12,1580.25 474.60,1581.40 478.10,1582.90 C481.60,1584.40 485.08,1586.32 488.60,1588.40 C492.12,1590.48 495.68,1592.87 499.20,1595.40 C502.72,1597.93 506.20,1600.77 509.70,1603.60 C513.20,1606.43 516.68,1609.40 520.20,1612.40 C523.72,1615.40 527.28,1618.52 530.80,1621.60 C534.32,1624.68 537.78,1627.90 541.30,1630.90 C544.82,1633.90 548.38,1636.82 551.90,1639.60 C555.42,1642.38 558.90,1645.10 562.40,1647.60 C565.90,1650.10 569.38,1652.50 572.90,1654.60 C576.42,1656.70 579.98,1658.58 583.50,1660.20 C587.02,1661.82 590.48,1663.23 594.00,1664.30 C597.52,1665.37 601.08,1666.07 604.60,1666.60 C608.12,1667.13 611.00,1667.30 615.10,1667.50 C619.20,1667.70 623.33,1667.97 629.20,1667.80 C635.07,1667.63 643.28,1667.08 650.30,1666.50 C657.32,1665.92 664.28,1664.93 671.30,1664.30 C678.32,1663.67 685.37,1663.00 692.40,1662.70 C699.43,1662.40 700.57,1662.53 713.50,1662.50 C726.43,1662.47 751.92,1662.50 770.00,1662.50 C788.08,1662.50 813.33,1662.50 822.00,1662.50" fill="none" stroke="#000" stroke-width="6.5" stroke-linecap="round" stroke-linejoin="round" />
<text x="926.50" y="1280.10" font-size="35" text-anchor="start" font-family="Liberation Sans, sans-serif" font-weight="bold" >F</text>
<line x1="1090.80" y1="1304.70" x2="1090.80" y2="1701.30" stroke="#000" stroke-width="3.6" />
<line x1="1081.30" y1="1660.20" x2="1872.40" y2="1660.20" stroke="#000" stroke-width="3.6" />
<line x1="1081.30" y1="1699.50" x2="1090.80" y2="1699.50" stroke="#000" stroke-width="3.6" />
<text x="1065.60" y="1708.70" font-size="30" text-anchor="end" font-family="Liberation Serif, serif" font-weight="bold" >-2</text>
<line x1="1081.30" y1="1660.20" x2="1090.80" y2="1660.20" stroke="#000" stroke-width="3.6" />
<text x="1065.60" y="1669.40" font-size="30" text-anchor="end" font-family="Liberation Serif, serif" font-weight="bold" >0</text>
<line x1="1081.30" y1="1620.90" x2="1090.80" y2="1620.90" stroke="#000" stroke-width="3.6" />
<text x="1065.60" y="1630.10" font-size="30" text-anchor="end" font-family="Liberation Serif, serif" font-weight="bold" >2</text>
<line x1="1081.30" y1="1581.60" x2="1090.80" y2="1581.60" stroke="#000" stroke-width="3.6" />
<text x="1065.60" y="1590.80" font-size="30" text-anchor="end" font-family="Liberation Serif, serif" font-weight="bold" >4</text>
<line x1="1081.30" y1="1542.30" x2="1090.80" y2="1542.30" stroke="#000" stroke-width="3.6" />
<text x="1065.60" y="1551.50" font-size="30" text-anchor="end" font-family="Liberation Serif, serif" font-weight="bold" >6</text>
<line x1="1081.30" y1="1503.00" x2="1090.80" y2="1503.00" stroke="#000" stroke-width="3.6" />
<text x="1065.60" y="1512.20" font-size="30" text-anchor="end" font-family="Liberation Serif, serif" font-weight="bold" >8</text>
<line x1="1081.30" y1="1463.70" x2="1090.80" y2="1463.70" stroke="#000" stroke-width="3.6" />
<text x="1065.60" y="1472.90" font-size="30" text-anchor="end" font-family="Liberation Serif, serif" font-weight="bold" >10</text>
<line x1="1081.30" y1="1424.40" x2="1090.80" y2="1424.40" stroke="#000" stroke-width="3.6" />
<text x="1065.60" y="1433.60" font-size="30" text-anchor="end" font-family="Liberation Serif, serif" font-weight="bold" >12</text>
<line x1="1081.30" y1="1385.10" x2="1090.80" y2="1385.10" stroke="#000" stroke-width="3.6" />
<text x="1065.60" y="1394.30" font-size="30" text-anchor="end" font-family="Liberation Serif, serif" font-weight="bold" >14</text>
<line x1="1081.30" y1="1345.80" x2="1090.80" y2="1345.80" stroke="#000" stroke-width="3.6" />
<text x="1065.60" y="1355.00" font-size="30" text-anchor="end" font-family="Liberation Serif, serif" font-weight="bold" >16</text>
<line x1="1081.30" y1="1306.50" x2="1090.80" y2="1306.50" stroke="#000" stroke-width="3.6" />
<text x="1065.60" y="1315.70" font-size="30" text-anchor="end" font-family="Liberation Serif, serif" font-weight="bold" >18</text>
<line x1="1090.80" y1="1660.20" x2="1090.80" y2="1668.80" stroke="#000" stroke-width="3.6" />
<line x1="1220.77" y1="1660.20" x2="1220.77" y2="1668.80" stroke="#000" stroke-width="3.6" />
<line x1="1350.73" y1="1660.20" x2="1350.73" y2="1668.80" stroke="#000" stroke-width="3.6" />
<line x1="1480.70" y1="1660.20" x2="1480.70" y2="1668.80" stroke="#000" stroke-width="3.6" />
<line x1="1610.67" y1="1660.20" x2="1610.67" y2="1668.80" stroke="#000" stroke-width="3.6" />
<line x1="1740.63" y1="1660.20" x2="1740.63" y2="1668.80" stroke="#000" stroke-width="3.6" />
<line x1="1870.60" y1="1660.20" x2="1870.60" y2="1668.80" stroke="#000" stroke-width="3.6" />
<text x="1155.78" y="1704.60" font-size="29.5" text-anchor="middle" font-family="Liberation Serif, serif" font-weight="bold" >1</text>
<text x="1285.75" y="1704.60" font-size="29.5" text-anchor="middle" font-family="Liberation Serif, serif" font-weight="bold" >3</text>
<text x="1415.72" y="1704.60" font-size="29.5" text-anchor="middle" font-family="Liberation Serif, serif" font-weight="bold" >7</text>
<text x="1545.68" y="1704.60" font-size="29.5" text-anchor="middle" font-family="Liberation Serif, serif" font-weight="bold" >14</text>
<text x="1675.65" y="1704.60" font-size="29.5" text-anchor="middle" font-family="Liberation Serif, serif" font-weight="bold" >28</text>
<text x="1805.62" y="1704.60" font-size="29.5" text-anchor="middle" font-family="Liberation Serif, serif" font-weight="bold" >90</text>
<text x="1480.50" y="1754.90" font-size="36" text-anchor="middle" font-family="Liberation Serif, serif" font-weight="bold" >Time(day)</text>
<text transform="translate(1018.80,1502.00) rotate(-90)" font-size="35.9" text-anchor="middle" font-family="Liberation Serif, serif" font-weight="bold" >Calculated Conc. (ng/g)</text>
<path d="M1156.20,1334.90 C1159.35,1340.32 1169.02,1356.42 1175.10,1367.40 C1181.18,1378.38 1186.83,1389.38 1192.70,1400.80 C1198.57,1412.22 1204.45,1424.48 1210.30,1435.90 C1216.15,1447.32 1222.85,1459.98 1227.80,1469.30 C1232.75,1478.62 1236.50,1485.72 1240.00,1491.80 C1243.50,1497.88 1245.87,1501.27 1248.80,1505.80 C1251.73,1510.33 1254.68,1514.83 1257.60,1519.00 C1260.52,1523.17 1263.38,1527.15 1266.30,1530.80 C1269.22,1534.45 1272.17,1537.83 1275.10,1540.90 C1278.03,1543.97 1280.97,1546.80 1283.90,1549.20 C1286.83,1551.60 1289.77,1553.55 1292.70,1555.30 C1295.63,1557.05 1298.57,1558.52 1301.50,1559.70 C1304.43,1560.88 1307.38,1561.72 1310.30,1562.40 C1313.22,1563.08 1316.08,1563.48 1319.00,1563.80 C1321.92,1564.12 1324.57,1564.30 1327.80,1564.30 C1331.03,1564.30 1334.88,1564.10 1338.40,1563.80 C1341.92,1563.50 1344.80,1563.08 1348.90,1562.50 C1353.00,1561.92 1358.32,1561.02 1363.00,1560.30 C1367.68,1559.58 1372.62,1558.77 1377.00,1558.20 C1381.38,1557.63 1385.20,1557.08 1389.30,1556.90 C1393.40,1556.72 1397.80,1556.77 1401.60,1557.10 C1405.40,1557.43 1408.58,1558.08 1412.10,1558.90 C1415.62,1559.72 1419.18,1560.75 1422.70,1562.00 C1426.22,1563.25 1429.68,1564.78 1433.20,1566.40 C1436.72,1568.02 1440.28,1569.85 1443.80,1571.70 C1447.32,1573.55 1450.80,1575.52 1454.30,1577.50 C1457.80,1579.48 1461.28,1581.55 1464.80,1583.60 C1468.32,1585.65 1471.88,1587.68 1475.40,1589.80 C1478.92,1591.92 1482.38,1594.13 1485.90,1596.30 C1489.42,1598.47 1492.98,1600.70 1496.50,1602.80 C1500.02,1604.90 1503.30,1606.78 1507.00,1608.90 C1510.70,1611.02 1513.62,1612.68 1518.70,1615.50 C1523.78,1618.32 1531.25,1622.55 1537.50,1625.80 C1543.75,1629.05 1549.97,1632.38 1556.20,1635.00 C1562.43,1637.62 1568.65,1639.48 1574.90,1641.50 C1581.15,1643.52 1587.45,1645.43 1593.70,1647.10 C1599.95,1648.77 1606.17,1650.18 1612.40,1651.50 C1618.63,1652.82 1624.85,1653.95 1631.10,1655.00 C1637.35,1656.05 1643.65,1656.98 1649.90,1657.80 C1656.15,1658.62 1662.35,1659.30 1668.60,1659.90 C1674.85,1660.50 1681.15,1661.00 1687.40,1661.40 C1693.65,1661.80 1699.87,1662.12 1706.10,1662.30 C1712.33,1662.48 1718.55,1662.50 1724.80,1662.50 C1731.05,1662.50 1737.35,1662.48 1743.60,1662.30 C1749.85,1662.12 1756.07,1661.72 1762.30,1661.40 C1768.53,1661.08 1773.72,1660.65 1781.00,1660.40 C1788.28,1660.15 1801.83,1659.98 1806.00,1659.90" fill="none" stroke="#000" stroke-width="6.3" stroke-linecap="round" stroke-linejoin="round" />
<text x="5.20" y="1867.20" font-size="35" text-anchor="start" font-family="Liberation Sans, sans-serif" font-weight="bold" >G</text>
<line x1="192.00" y1="1916.50" x2="192.00" y2="2320.90" stroke="#000" stroke-width="3.6" />
<line x1="182.50" y1="2279.02" x2="871.60" y2="2279.02" stroke="#000" stroke-width="3.6" />
<line x1="182.50" y1="2319.10" x2="192.00" y2="2319.10" stroke="#000" stroke-width="3.6" />
<text x="165.60" y="2328.70" font-size="30" text-anchor="end" font-family="Liberation Serif, serif" font-weight="bold" >-2</text>
<line x1="182.50" y1="2279.02" x2="192.00" y2="2279.02" stroke="#000" stroke-width="3.6" />
<text x="165.60" y="2288.62" font-size="30" text-anchor="end" font-family="Liberation Serif, serif" font-weight="bold" >0</text>
<line x1="182.50" y1="2238.94" x2="192.00" y2="2238.94" stroke="#000" stroke-width="3.6" />
<text x="165.60" y="2248.54" font-size="30" text-anchor="end" font-family="Liberation Serif, serif" font-weight="bold" >2</text>
<line x1="182.50" y1="2198.86" x2="192.00" y2="2198.86" stroke="#000" stroke-width="3.6" />
<text x="165.60" y="2208.46" font-size="30" text-anchor="end" font-family="Liberation Serif, serif" font-weight="bold" >4</text>
<line x1="182.50" y1="2158.78" x2="192.00" y2="2158.78" stroke="#000" stroke-width="3.6" />
<text x="165.60" y="2168.38" font-size="30" text-anchor="end" font-family="Liberation Serif, serif" font-weight="bold" >6</text>
<line x1="182.50" y1="2118.70" x2="192.00" y2="2118.70" stroke="#000" stroke-width="3.6" />
<text x="165.60" y="2128.30" font-size="30" text-anchor="end" font-family="Liberation Serif, serif" font-weight="bold" >8</text>
<line x1="182.50" y1="2078.62" x2="192.00" y2="2078.62" stroke="#000" stroke-width="3.6" />
<text x="165.60" y="2088.22" font-size="30" text-anchor="end" font-family="Liberation Serif, serif" font-weight="bold" >10</text>
<line x1="182.50" y1="2038.54" x2="192.00" y2="2038.54" stroke="#000" stroke-width="3.6" />
<text x="165.60" y="2048.14" font-size="30" text-anchor="end" font-family="Liberation Serif, serif" font-weight="bold" >12</text>
<line x1="182.50" y1="1998.46" x2="192.00" y2="1998.46" stroke="#000" stroke-width="3.6" />
<text x="165.60" y="2008.06" font-size="30" text-anchor="end" font-family="Liberation Serif, serif" font-weight="bold" >14</text>
<line x1="182.50" y1="1958.38" x2="192.00" y2="1958.38" stroke="#000" stroke-width="3.6" />
<text x="165.60" y="1967.98" font-size="30" text-anchor="end" font-family="Liberation Serif, serif" font-weight="bold" >16</text>
<line x1="182.50" y1="1918.30" x2="192.00" y2="1918.30" stroke="#000" stroke-width="3.6" />
<text x="165.60" y="1927.90" font-size="30" text-anchor="end" font-family="Liberation Serif, serif" font-weight="bold" >18</text>
<line x1="192.00" y1="2279.02" x2="192.00" y2="2287.62" stroke="#000" stroke-width="3.6" />
<line x1="304.97" y1="2279.02" x2="304.97" y2="2287.62" stroke="#000" stroke-width="3.6" />
<line x1="417.93" y1="2279.02" x2="417.93" y2="2287.62" stroke="#000" stroke-width="3.6" />
<line x1="530.90" y1="2279.02" x2="530.90" y2="2287.62" stroke="#000" stroke-width="3.6" />
<line x1="643.87" y1="2279.02" x2="643.87" y2="2287.62" stroke="#000" stroke-width="3.6" />
<line x1="756.83" y1="2279.02" x2="756.83" y2="2287.62" stroke="#000" stroke-width="3.6" />
<line x1="869.80" y1="2279.02" x2="869.80" y2="2287.62" stroke="#000" stroke-width="3.6" />
<text x="248.48" y="2324.20" font-size="29.5" text-anchor="middle" font-family="Liberation Serif, serif" font-weight="bold" >1</text>
<text x="361.45" y="2324.20" font-size="29.5" text-anchor="middle" font-family="Liberation Serif, serif" font-weight="bold" >3</text>
<text x="474.42" y="2324.20" font-size="29.5" text-anchor="middle" font-family="Liberation Serif, serif" font-weight="bold" >7</text>
<text x="587.38" y="2324.20" font-size="29.5" text-anchor="middle" font-family="Liberation Serif, serif" font-weight="bold" >14</text>
<text x="700.35" y="2324.20" font-size="29.5" text-anchor="middle" font-family="Liberation Serif, serif" font-weight="bold" >28</text>
<text x="813.32" y="2324.20" font-size="29.5" text-anchor="middle" font-family="Liberation Serif, serif" font-weight="bold" >90</text>
<text x="529.00" y="2376.70" font-size="36" text-anchor="middle" font-family="Liberation Serif, serif" font-weight="bold" >Time(day)</text>
<text transform="translate(120.20,2118.25) rotate(-90)" font-size="35.9" text-anchor="middle" font-family="Liberation Serif, serif" font-weight="bold" >Calculated Conc. (ng/g)</text>
<path d="M248.20,1968.40 C250.38,1972.95 256.18,1984.72 261.30,1995.70 C266.42,2006.68 273.03,2021.42 278.90,2034.30 C284.77,2047.18 290.65,2060.55 296.50,2073.00 C302.35,2085.45 308.62,2098.45 314.00,2109.00 C319.38,2119.55 324.87,2129.17 328.80,2136.30 C332.73,2143.43 334.68,2146.82 337.60,2151.80 C340.52,2156.78 343.38,2161.68 346.30,2166.20 C349.22,2170.72 352.17,2175.15 355.10,2178.90 C358.03,2182.65 360.97,2185.90 363.90,2188.70 C366.83,2191.50 369.77,2193.73 372.70,2195.70 C375.63,2197.67 378.57,2199.22 381.50,2200.50 C384.43,2201.78 387.38,2202.67 390.30,2203.40 C393.22,2204.13 395.50,2204.60 399.00,2204.90 C402.50,2205.20 406.90,2205.18 411.30,2205.20 C415.70,2205.22 420.72,2205.12 425.40,2205.00 C430.08,2204.88 434.72,2204.58 439.40,2204.50 C444.08,2204.42 449.40,2204.20 453.50,2204.50 C457.60,2204.80 460.48,2205.42 464.00,2206.30 C467.52,2207.18 471.08,2208.37 474.60,2209.80 C478.12,2211.23 481.58,2213.03 485.10,2214.90 C488.62,2216.77 492.18,2218.78 495.70,2221.00 C499.22,2223.22 502.70,2225.68 506.20,2228.20 C509.70,2230.72 513.18,2233.40 516.70,2236.10 C520.22,2238.80 523.78,2241.65 527.30,2244.40 C530.82,2247.15 534.30,2249.92 537.80,2252.60 C541.30,2255.28 544.78,2257.98 548.30,2260.50 C551.82,2263.02 555.38,2265.47 558.90,2267.70 C562.42,2269.93 565.88,2272.15 569.40,2273.90 C572.92,2275.65 576.48,2276.98 580.00,2278.20 C583.52,2279.42 587.00,2280.43 590.50,2281.20 C594.00,2281.97 597.48,2282.42 601.00,2282.80 C604.52,2283.18 607.48,2283.37 611.60,2283.50 C615.72,2283.63 620.43,2283.70 625.70,2283.60 C630.97,2283.50 637.35,2283.25 643.20,2282.90 C649.05,2282.55 654.93,2282.00 660.80,2281.50 C666.67,2281.00 673.13,2280.28 678.40,2279.90 C683.67,2279.52 686.55,2279.35 692.40,2279.20 C698.25,2279.05 700.57,2279.03 713.50,2279.00 C726.43,2278.97 753.33,2279.00 770.00,2279.00 C786.67,2279.00 806.25,2279.00 813.50,2279.00" fill="none" stroke="#000" stroke-width="6.5" stroke-linecap="round" stroke-linejoin="round" />
<text x="926.50" y="1867.40" font-size="35" text-anchor="start" font-family="Liberation Sans, sans-serif" font-weight="bold" >H</text>
<line x1="1106.20" y1="1912.00" x2="1106.20" y2="2361.40" stroke="#000" stroke-width="3.6" />
<line x1="1096.70" y1="2285.30" x2="1880.60" y2="2285.30" stroke="#000" stroke-width="3.6" />
<line x1="1096.70" y1="2359.60" x2="1106.20" y2="2359.60" stroke="#000" stroke-width="3.6" />
<text x="1079.00" y="2369.30" font-size="30" text-anchor="end" font-family="Liberation Serif, serif" font-weight="bold" >-5</text>
<line x1="1096.70" y1="2285.30" x2="1106.20" y2="2285.30" stroke="#000" stroke-width="3.6" />
<text x="1079.00" y="2295.00" font-size="30" text-anchor="end" font-family="Liberation Serif, serif" font-weight="bold" >0</text>
<line x1="1096.70" y1="2211.00" x2="1106.20" y2="2211.00" stroke="#000" stroke-width="3.6" />
<text x="1079.00" y="2220.70" font-size="30" text-anchor="end" font-family="Liberation Serif, serif" font-weight="bold" >5</text>
<line x1="1096.70" y1="2136.70" x2="1106.20" y2="2136.70" stroke="#000" stroke-width="3.6" />
<text x="1079.00" y="2146.40" font-size="30" text-anchor="end" font-family="Liberation Serif, serif" font-weight="bold" >10</text>
<line x1="1096.70" y1="2062.40" x2="1106.20" y2="2062.40" stroke="#000" stroke-width="3.6" />
<text x="1079.00" y="2072.10" font-size="30" text-anchor="end" font-family="Liberation Serif, serif" font-weight="bold" >15</text>
<line x1="1096.70" y1="1988.10" x2="1106.20" y2="1988.10" stroke="#000" stroke-width="3.6" />
<text x="1079.00" y="1997.80" font-size="30" text-anchor="end" font-family="Liberation Serif, serif" font-weight="bold" >20</text>
<line x1="1096.70" y1="1913.80" x2="1106.20" y2="1913.80" stroke="#000" stroke-width="3.6" />
<text x="1079.00" y="1923.50" font-size="30" text-anchor="end" font-family="Liberation Serif, serif" font-weight="bold" >25</text>
<line x1="1106.20" y1="2285.30" x2="1106.20" y2="2293.90" stroke="#000" stroke-width="3.6" />
<line x1="1234.97" y1="2285.30" x2="1234.97" y2="2293.90" stroke="#000" stroke-width="3.6" />
<line x1="1363.73" y1="2285.30" x2="1363.73" y2="2293.90" stroke="#000" stroke-width="3.6" />
<line x1="1492.50" y1="2285.30" x2="1492.50" y2="2293.90" stroke="#000" stroke-width="3.6" />
<line x1="1621.27" y1="2285.30" x2="1621.27" y2="2293.90" stroke="#000" stroke-width="3.6" />
<line x1="1750.03" y1="2285.30" x2="1750.03" y2="2293.90" stroke="#000" stroke-width="3.6" />
<line x1="1878.80" y1="2285.30" x2="1878.80" y2="2293.90" stroke="#000" stroke-width="3.6" />
<text x="1170.58" y="2331.00" font-size="29.5" text-anchor="middle" font-family="Liberation Serif, serif" font-weight="bold" >1</text>
<text x="1299.35" y="2331.00" font-size="29.5" text-anchor="middle" font-family="Liberation Serif, serif" font-weight="bold" >3</text>
<text x="1428.12" y="2331.00" font-size="29.5" text-anchor="middle" font-family="Liberation Serif, serif" font-weight="bold" >7</text>
<text x="1556.88" y="2331.00" font-size="29.5" text-anchor="middle" font-family="Liberation Serif, serif" font-weight="bold" >14</text>
<text x="1685.65" y="2331.00" font-size="29.5" text-anchor="middle" font-family="Liberation Serif, serif" font-weight="bold" >28</text>
<text x="1814.42" y="2331.00" font-size="29.5" text-anchor="middle" font-family="Liberation Serif, serif" font-weight="bold" >90</text>
<text x="1419.70" y="2379.80" font-size="36" text-anchor="start" font-family="Liberation Serif, serif" font-weight="bold" >Time(day<tspan font-weight="normal" font-size="28" dx="-1" dy="-1">)</tspan></text>
<text transform="translate(1033.20,2135.50) rotate(-90)" font-size="35.9" text-anchor="middle" font-family="Liberation Serif, serif" font-weight="bold" >Calculated Conc. (ng/g)</text>
<path d="M1170.70,1988.60 C1173.10,1992.03 1179.77,2001.52 1185.10,2009.20 C1190.43,2016.88 1196.83,2026.22 1202.70,2034.70 C1208.57,2043.18 1214.45,2051.77 1220.30,2060.10 C1226.15,2068.43 1231.40,2076.13 1237.80,2084.70 C1244.20,2093.27 1252.08,2103.28 1258.70,2111.50 C1265.32,2119.72 1271.25,2127.12 1277.50,2134.00 C1283.75,2140.88 1289.97,2146.87 1296.20,2152.80 C1302.43,2158.73 1308.65,2164.45 1314.90,2169.60 C1321.15,2174.75 1327.45,2179.32 1333.70,2183.70 C1339.95,2188.08 1346.72,2192.22 1352.40,2195.90 C1358.08,2199.58 1362.30,2202.57 1367.80,2205.80 C1373.30,2209.03 1379.53,2212.28 1385.40,2215.30 C1391.27,2218.32 1397.15,2221.18 1403.00,2223.90 C1408.85,2226.62 1414.65,2229.32 1420.50,2231.60 C1426.35,2233.88 1432.23,2235.85 1438.10,2237.60 C1443.97,2239.35 1449.85,2240.77 1455.70,2242.10 C1461.55,2243.43 1467.35,2244.52 1473.20,2245.60 C1479.05,2246.68 1484.93,2247.67 1490.80,2248.60 C1496.67,2249.53 1502.55,2250.38 1508.40,2251.20 C1514.25,2252.02 1520.05,2252.62 1525.90,2253.50 C1531.75,2254.38 1537.63,2255.32 1543.50,2256.50 C1549.37,2257.68 1553.98,2258.72 1561.10,2260.60 C1568.22,2262.48 1578.90,2265.82 1586.20,2267.80 C1593.50,2269.78 1598.65,2271.00 1604.90,2272.50 C1611.15,2274.00 1617.45,2275.50 1623.70,2276.80 C1629.95,2278.10 1636.17,2279.25 1642.40,2280.30 C1648.63,2281.35 1654.85,2282.28 1661.10,2283.10 C1667.35,2283.92 1673.65,2284.63 1679.90,2285.20 C1686.15,2285.77 1692.35,2286.18 1698.60,2286.50 C1704.85,2286.82 1711.15,2287.00 1717.40,2287.10 C1723.65,2287.20 1729.87,2287.20 1736.10,2287.10 C1742.33,2287.00 1748.55,2286.72 1754.80,2286.50 C1761.05,2286.28 1767.35,2286.05 1773.60,2285.80 C1779.85,2285.55 1785.40,2285.20 1792.30,2285.00 C1799.20,2284.80 1811.22,2284.67 1815.00,2284.60" fill="none" stroke="#000" stroke-width="6.3" stroke-linecap="round" stroke-linejoin="round" />
</svg>
</body></html>
